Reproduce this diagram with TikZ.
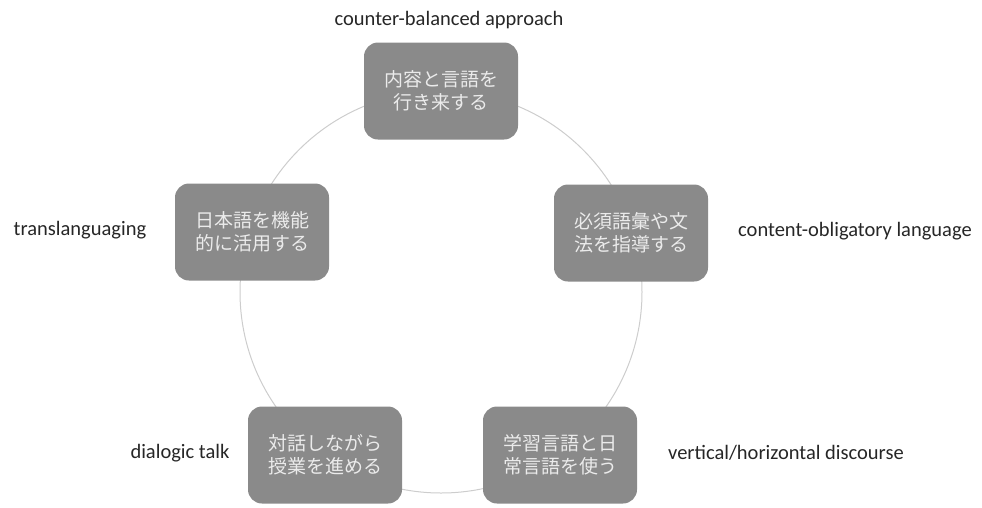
\documentclass[tikz,border=0pt]{standalone}
\usepackage{fontspec}
\setmainfont{Carlito}
\newfontfamily\jpfont{Noto Sans CJK JP}
\definecolor{boxgray}{HTML}{8A8A8A}
\definecolor{ringgray}{HTML}{CDCDCD}
\definecolor{labtext}{HTML}{262626}
\begin{document}
\begin{tikzpicture}[x=1pt,y=-1pt,
  stagebox/.style={rectangle, rounded corners=14pt, fill=boxgray,
    minimum width=154pt, minimum height=97pt, text=white!92!black,
    font=\jpfont\fontsize{19}{23}\selectfont, align=center, inner sep=0pt},
  sidelabel/.style={font=\fontsize{20.5}{24}\selectfont, text=labtext, inner sep=0pt},
  ring/.style={draw=ringgray, line width=1pt}]
\useasboundingbox (0,0) rectangle (982,507);
\coordinate (ctr) at (441,292);
\draw[ring] (ctr) circle[radius=201];
\node[stagebox] (top) at (441,91) {内容と言語を\\行き来する};
\node[stagebox] (right) at (631,233) {必須語彙や文\\法を指導する};
\node[stagebox] (bright) at (560,455) {学習言語と日\\常言語を使う};
\node[stagebox] (bleft) at (325,455) {対話しながら\\授業を進める};
\node[stagebox] (left) at (252,232) {日本語を機能\\的に活用する};
\node[sidelabel] (ltop) at (449,20) {counter-balanced approach};
\node[sidelabel] (lright) at (855,231) {content-obligatory language};
\node[sidelabel] (lbright) at (786,453) {vertical/horizontal discourse};
\node[sidelabel] (lbleft) at (180,453) {dialogic talk};
\node[sidelabel] (lleft) at (80,230) {translanguaging};
\end{tikzpicture}
\end{document}
